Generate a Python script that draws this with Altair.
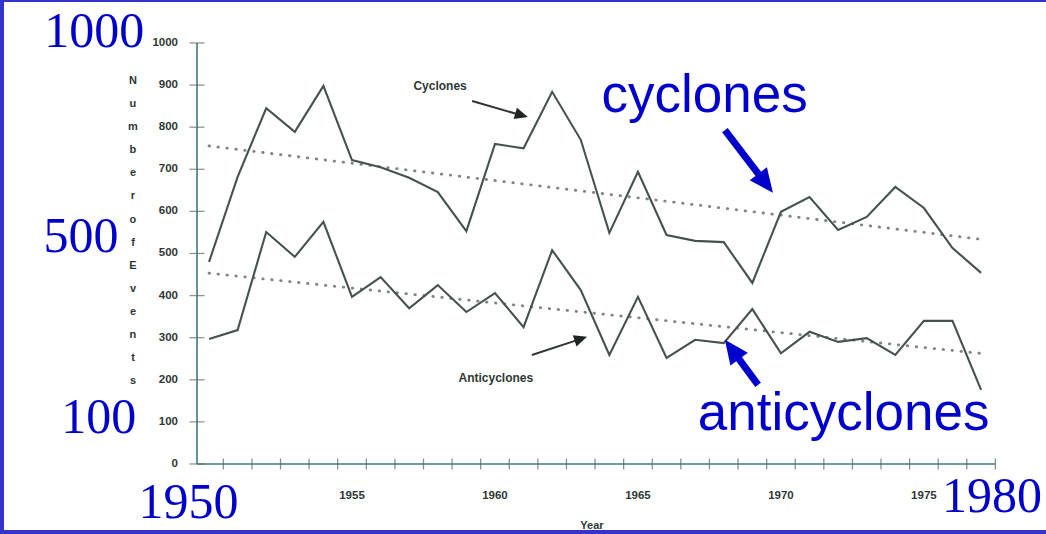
import math

import altair as alt
import pandas as pd

# Annual counts of cyclone and anticyclone events, 1950-1977
years = list(range(1950, 1978))
cyclones = [480, 682, 845, 789, 898, 722, 705, 680, 646, 553, 760, 750, 884, 770,
            549, 694, 544, 530, 527, 430, 599, 634, 556, 587, 658, 608, 513, 454]
anticyclones = [297, 318, 551, 492, 575, 397, 444, 370, 425, 361, 406, 325, 508, 413,
                259, 397, 252, 295, 287, 368, 263, 314, 290, 299, 259, 340, 340, 176]

# Axis furniture of the original figure
y_ticks = list(range(0, 1001, 100))
x_ticks = [y + 0.5 for y in range(1950, 1978)]
x_tick_labels = [1955, 1960, 1965, 1970, 1975]
y_title = list("Number") + [" "] + list("of") + [" "] + list("Events")

# Hand-written overlay labels (data coordinates: year, count)
big_numbers = ["1000", "500", "100", "1950", "1980"]
big_years = [1945.99, 1945.52, 1946.14, 1949.28, 1977.38]
big_values = [990, 504, 74, -128, -114]

big_words = ["cyclones", "anticyclones"]
big_word_years = [1967.33, 1972.19]
big_word_values = [836, 81]

small_words = ["Cyclones", "Anticyclones"]
small_word_years = [1958.08, 1960.03]
small_word_values = [898, 204]

# Arrows: tail -> tip
arrow_group = ["blue", "blue", "black", "black"]
arrow_tail_year = [1968.04, 1969.20, 1959.20, 1961.29]
arrow_tail_value = [793, 188, 862, 259]
arrow_tip_year = [1969.72, 1968.04, 1961.15, 1963.22]
arrow_tip_value = [644, 295, 824, 302]

W, H = 1046, 534
X0, X1 = 1942.69, 1979.27
Y0, Y1 = -166.3, 1102.1
AXIS_X = 1949.58      # year at which the vertical axis stands
AXIS_END = 1977.5

PX_PER_YEAR = W / (X1 - X0)
PX_PER_UNIT = H / (Y1 - Y0)

BLUE = "#0000cc"
FRAME = "#3434cc"
INK = "#465250"
AXIS = "#3f7c7a"
LABEL = "#2e3736"

xs = alt.Scale(domain=[X0, X1], nice=False, zero=False)
ys = alt.Scale(domain=[Y0, Y1], nice=False, zero=False)


def X(field="year"):
    return alt.X(f"{field}:Q", scale=xs, axis=None)


def Y(field="value"):
    return alt.Y(f"{field}:Q", scale=ys, axis=None)


series = pd.concat([
    pd.DataFrame({"year": years, "value": cyclones, "series": "Cyclones"}),
    pd.DataFrame({"year": years, "value": anticyclones, "series": "Anticyclones"}),
])

lines = alt.Chart(series).mark_line(color=INK, strokeWidth=2.1).encode(
    x=X(), y=Y(), detail="series:N")

trend = alt.Chart(series).transform_regression(
    "year", "value", groupby=["series"]
).mark_line(color="#7e8584", strokeWidth=2.8, strokeDash=[0.5, 8.5], strokeCap="round").encode(
    x=X(), y=Y(), detail="series:N")

# Axes drawn inside the frame, as in the scanned figure
axis_df = pd.DataFrame({"x": [AXIS_X, AXIS_X], "x2": [AXIS_X, AXIS_END],
                        "y": [min(y_ticks), 0], "y2": [max(y_ticks), 0]})
axis_lines = alt.Chart(axis_df).mark_rule(color=AXIS, strokeWidth=1.6).encode(
    x=X("x"), x2="x2:Q", y=Y("y"), y2="y2:Q")

ytick_df = pd.DataFrame({"year": AXIS_X, "value": y_ticks, "label": [str(v) for v in y_ticks]})
yticks = alt.Chart(ytick_df).mark_tick(orient="horizontal", size=15, thickness=1.3,
                                        color="#5b6a68").encode(x=X(), y=Y())
ylabels = alt.Chart(ytick_df).mark_text(
    align="right", baseline="middle", dx=-19, fontSize=11.5, fontWeight="bold",
    font="Liberation Sans", color=LABEL).encode(x=X(), y=Y(), text="label:N")

xtick_df = pd.DataFrame({"year": x_ticks, "value": 0})
xticks = alt.Chart(xtick_df).mark_tick(orient="vertical", size=11, thickness=1.3,
                                        color="#4f6462").encode(x=X(), y=Y())
xlab_df = pd.DataFrame({"year": x_tick_labels, "value": 0, "label": [str(v) for v in x_tick_labels]})
xlabels = alt.Chart(xlab_df).mark_text(
    align="center", baseline="middle", dy=32, fontSize=11.5, fontWeight="bold",
    font="Liberation Sans", color=LABEL).encode(x=X(), y=Y(), text="label:N")

ytitle = alt.Chart(pd.DataFrame({"year": [1947.34], "value": [902.6]})).mark_text(
    text=y_title, align="center", baseline="alphabetic", lineHeight=23.1,
    fontSize=11, fontWeight="bold", font="Liberation Sans", color=LABEL
).encode(x=X(), y=Y())

xtitle = alt.Chart(pd.DataFrame({"year": [1963.39], "value": [-147.0], "label": ["Year"]})).mark_text(
    align="center", baseline="middle", fontSize=11, fontWeight="bold",
    font="Liberation Sans", color=LABEL).encode(x=X(), y=Y(), text="label:N")

small_df = pd.DataFrame({"year": small_word_years, "value": small_word_values, "label": small_words})
small_text = alt.Chart(small_df).mark_text(
    align="center", baseline="middle", fontSize=12, fontWeight="bold",
    font="Liberation Sans", color=LABEL).encode(x=X(), y=Y(), text="label:N")

# Arrow geometry derived from the tail/tip points
arrows = pd.DataFrame({"group": arrow_group, "ty": arrow_tail_year, "tv": arrow_tail_value,
                       "hy": arrow_tip_year, "hv": arrow_tip_value})
frac = arrows["group"].map({"blue": 0.8, "black": 0.82})
arrows["ey"] = arrows["ty"] + frac * (arrows["hy"] - arrows["ty"])
arrows["ev"] = arrows["tv"] + frac * (arrows["hv"] - arrows["tv"])
arrows["angle"] = [
    (math.degrees(math.atan2((hy - ty) * PX_PER_YEAR, (hv - tv) * PX_PER_UNIT)) + 360) % 360
    for ty, tv, hy, hv in zip(arrows["ty"], arrows["tv"], arrows["hy"], arrows["hv"])
]
HEAD = "M0,0L-0.9,2L0.9,2Z"

blue_arrows = arrows[arrows["group"] == "blue"]
black_arrows = arrows[arrows["group"] == "black"]

blue_shafts = alt.Chart(blue_arrows).mark_rule(color=BLUE, strokeWidth=7, strokeCap="butt").encode(
    x=X("ty"), y=Y("tv"), x2="ey:Q", y2="ev:Q")
blue_heads = alt.Chart(blue_arrows).mark_point(
    shape=HEAD, size=576, filled=True, color=BLUE, opacity=1, strokeWidth=0
).encode(x=X("hy"), y=Y("hv"), angle=alt.Angle("angle:Q", scale=None))

black_shafts = alt.Chart(black_arrows).mark_rule(color="#2f3634", strokeWidth=2, strokeCap="butt").encode(
    x=X("ty"), y=Y("tv"), x2="ey:Q", y2="ev:Q")
black_heads = alt.Chart(black_arrows).mark_point(
    shape=HEAD, size=170, filled=True, color="#1f2524", opacity=1, strokeWidth=0
).encode(x=X("hy"), y=Y("hv"), angle=alt.Angle("angle:Q", scale=None))

big_df = pd.DataFrame({"year": big_years, "value": big_values, "label": big_numbers})
big_text = alt.Chart(big_df).mark_text(
    align="center", baseline="alphabetic", fontSize=50, font="Liberation Serif", color=BLUE
).encode(x=X(), y=Y(), text="label:N")

word_df = pd.DataFrame({"year": big_word_years, "value": big_word_values, "label": big_words})
word_text = alt.Chart(word_df).mark_text(
    align="center", baseline="alphabetic", fontSize=53, font="Liberation Sans", color=BLUE
).encode(x=X(), y=Y(), text="label:N")

# Blue frame on the left, top and bottom edges of the slide
one = pd.DataFrame({"k": [0]})
frame_left = alt.Chart(one).mark_rule(color=FRAME, strokeWidth=4).encode(
    x=alt.value(2), y=alt.value(0), y2=alt.value(H))
frame_top = alt.Chart(one).mark_rule(color=FRAME, strokeWidth=2).encode(
    x=alt.value(0), x2=alt.value(W), y=alt.value(1))
frame_bottom = alt.Chart(one).mark_rule(color=FRAME, strokeWidth=4).encode(
    x=alt.value(0), x2=alt.value(W), y=alt.value(H - 2))

chart = alt.layer(
    trend, lines, axis_lines, yticks, xticks, ylabels, xlabels, ytitle, xtitle,
    small_text, black_shafts, black_heads, blue_shafts, blue_heads,
    big_text, word_text, frame_left, frame_top, frame_bottom
).properties(
    width=W, height=H, autosize=alt.AutoSizeParams(type="none"), padding=0,
    background="white"
).configure_view(stroke=None)

chart.save("out.html", embed_options={"renderer": "svg", "actions": False})
